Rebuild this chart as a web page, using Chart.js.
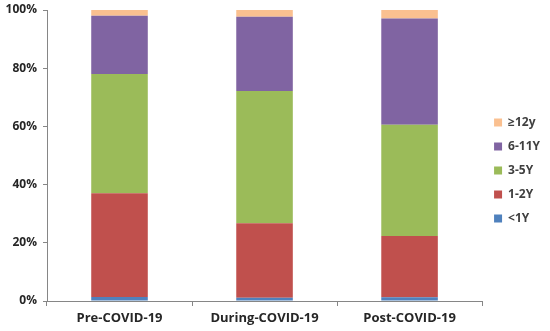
<!DOCTYPE html>
<html lang="en">
<head>
  <meta charset="UTF-8">
  <title>Age groups before, during and after COVID-19</title>
  <script src="https://cdn.jsdelivr.net/npm/chart.js"></script>
  <style>
    body {
      margin: 0;
      background: #fff;
    }
    #wrap {
      width: 550px;
      height: 331px;
    }
  </style>
</head>
<body>

  <div id="wrap">
    <canvas id="ageChart" width="550" height="331"></canvas>
  </div>

  <script>
    // Data (share of each period, %)
    const periods = ['Pre-COVID-19', 'During-COVID-19', 'Post-COVID-19'];
    const ageGroups = ['<1Y', '1-2Y', '3-5Y', '6-11Y', '≥12y'];
    const under1 = [1.4, 1.1, 1.3];
    const age1to2 = [35.6, 25.6, 21.0];
    const age3to5 = [41.0, 45.5, 38.3];
    const age6to11 = [20.0, 25.5, 36.5];
    const age12plus = [2.0, 2.3, 2.9];
    const yTicks = [0, 20, 40, 60, 80, 100];

    const colors = ['#4F81BD', '#C0504D', '#9BBB59', '#8064A2', '#FAC090'];
    const series = [under1, age1to2, age3to5, age6to11, age12plus];

    const font = "'Open Sans', 'DejaVu Sans', sans-serif";

    new Chart(document.getElementById('ageChart'), {
      type: 'bar',
      data: {
        labels: periods,
        datasets: series.map((vals, i) => ({
          label: ageGroups[i],
          data: vals,
          backgroundColor: colors[i],
          categoryPercentage: 1,
          barPercentage: 0.39
        }))
      },
      options: {
        responsive: false,
        animation: false,
        layout: { padding: { top: 10, right: 0, left: 0, bottom: 0 } },
        plugins: {
          tooltip: { enabled: false },
          legend: {
            position: 'right',
            reverse: true,
            labels: {
              boxWidth: 8,
              boxHeight: 8,
              padding: 12,
              color: '#404040',
              font: { family: font, size: 12, weight: 'bold' }
            }
          }
        },
        scales: {
          x: {
            stacked: true,
            grid: { drawOnChartArea: false, color: '#868686', tickLength: 5, offset: true },
            border: { color: '#868686' },
            ticks: { color: '#262626', padding: 4, font: { family: font, size: 13, weight: 'bold' } },
            afterFit: s => { s.height = 30; }
          },
          y: {
            stacked: true,
            min: 0,
            max: 100,
            afterBuildTicks: s => { s.ticks = yTicks.map(v => ({ value: v })); },
            grid: { drawOnChartArea: false, color: '#868686', tickLength: 4 },
            border: { color: '#868686' },
            ticks: {
              color: '#262626',
              padding: 6,
              font: { family: font, size: 12, weight: 'bold' },
              callback: v => v + '%'
            },
            afterFit: s => { s.width = 47; s.paddingTop = 0; s.paddingBottom = 0; }
          }
        }
      }
    });
  </script>

</body>
</html>
